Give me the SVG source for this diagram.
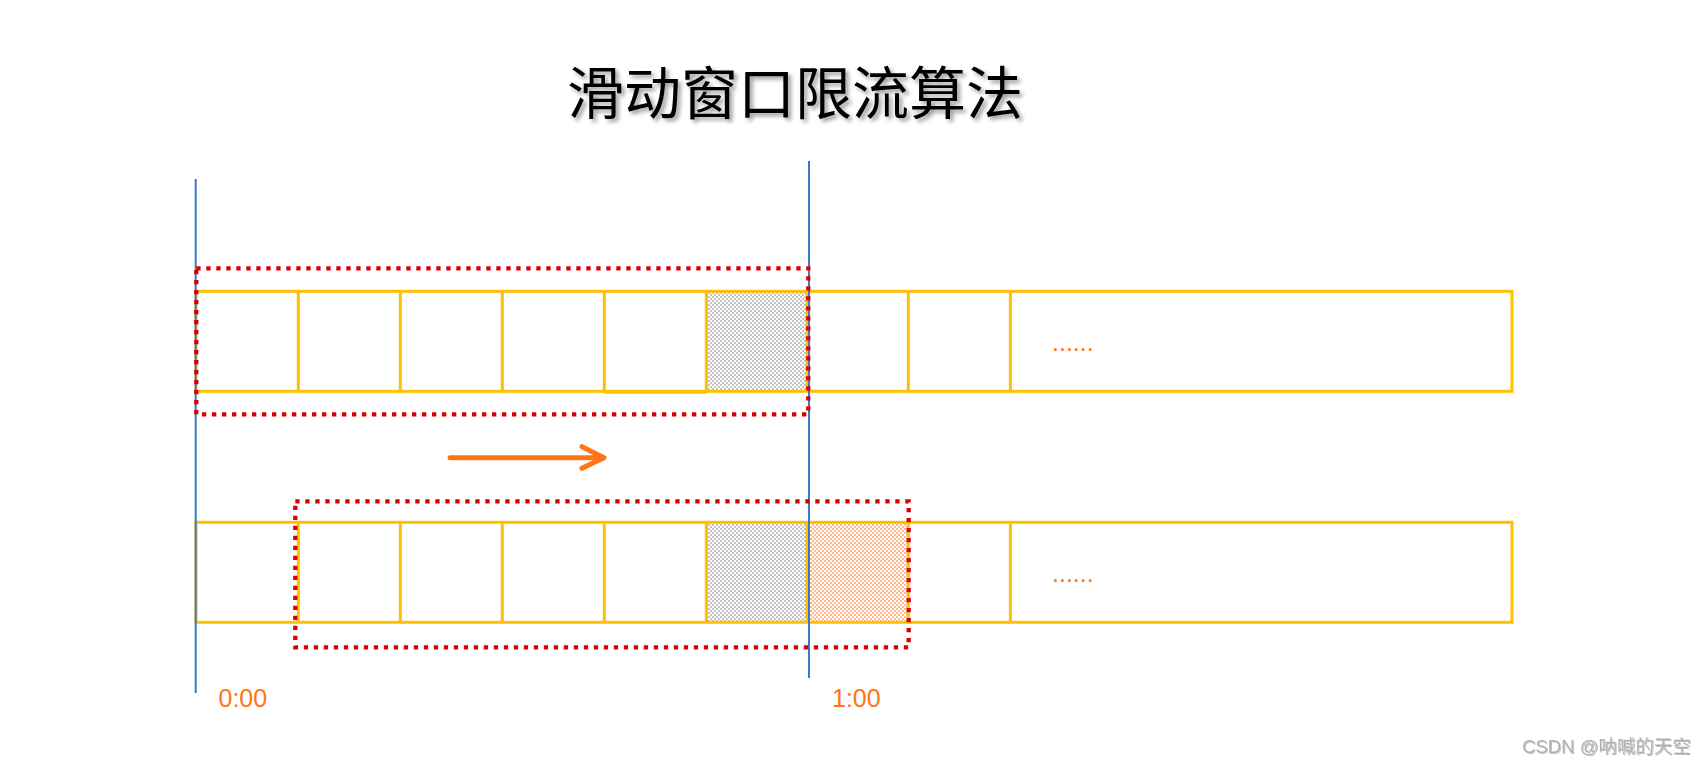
<svg xmlns="http://www.w3.org/2000/svg" width="1706" height="766" viewBox="0 0 1706 766">
<defs>
<pattern id="grayChk" width="4" height="4" patternUnits="userSpaceOnUse">
<rect width="4" height="4" fill="#ffffff"/>
<rect width="2" height="2" fill="#c4c4c4"/>
<rect x="2" y="2" width="2" height="2" fill="#c4c4c4"/>
</pattern>
<pattern id="orangeChk" width="4" height="4" patternUnits="userSpaceOnUse">
<rect width="4" height="4" fill="#ffffff"/>
<rect width="2" height="2" fill="#ffbb90"/>
<rect x="2" y="2" width="2" height="2" fill="#ffbb90"/>
</pattern>
<filter id="shadow" x="-10%" y="-30%" width="120%" height="160%">
<feDropShadow dx="3" dy="3" stdDeviation="2" flood-color="#000" flood-opacity="0.4"/>
</filter>
<filter id="wshadow" x="-10%" y="-30%" width="120%" height="160%">
<feDropShadow dx="1" dy="1" stdDeviation="0.6" flood-color="#000" flood-opacity="0.25"/>
</filter>
</defs>
<style>
.cell{fill:none;stroke:#ffc000;stroke-width:3}
.win{fill:none;stroke:#d90000;stroke-width:4.3;stroke-dasharray:4.3 5.7}
.axis{stroke:#3a78c9;stroke-width:2}
.lbl{font-family:"Liberation Sans",Arial,sans-serif;font-size:25px;fill:#ff7514}
.dots{font-family:"Liberation Sans",Arial,sans-serif;font-size:25px;fill:#ff7514}
.title{font-family:"Noto Sans CJK SC",sans-serif;font-size:57px;fill:#000}
.wm{font-family:"Liberation Sans","Noto Sans CJK SC",sans-serif;font-size:18.5px;fill:#b0b0b0}
</style>
<rect width="1706" height="766" fill="#ffffff"/>
<g id="title"><text class="title" x="795" y="114" text-anchor="middle" filter="url(#shadow)">滑动窗口限流算法</text></g>
<g id="row1">
<rect x="706" y="291.3" width="101" height="100" fill="url(#grayChk)"/>
<rect class="cell" x="196" y="291.3" width="1316" height="100"/>
<path class="cell" d="M298.3 291.3V391.3M400.3 291.3V391.3M502.3 291.3V391.3M604.3 291.3V392.3M706.3 291.3V392.3M604.3 392.3H706.3M807 291.3V391.3M908.3 291.3V391.3M1010.4 291.3V391.3"/>
<text class="dots" x="1052" y="351">......</text>
</g>
<g id="row2">
<rect x="706" y="522.3" width="101" height="100" fill="url(#grayChk)"/>
<rect x="807" y="522.3" width="101" height="100" fill="url(#orangeChk)"/>
<rect class="cell" x="196" y="522.3" width="1316" height="100"/>
<path class="cell" d="M298.3 522.3V622.3M400.3 522.3V622.3M502.3 522.3V622.3M604.3 522.3V622.3M706.3 522.3V622.3M807 522.3V622.3M908.3 522.3V622.3M1010.4 522.3V622.3"/>
<text class="dots" x="1052" y="582">......</text>
</g>
<g id="axes">
<line class="axis" x1="195.7" y1="179" x2="195.7" y2="693"/>
<line class="axis" x1="809" y1="161" x2="809" y2="678"/>
</g>
<g id="windows">
<rect class="win" x="196.3" y="268.3" width="612" height="146"/>
<rect class="win" x="295.3" y="501.3" width="613.4" height="146"/>
</g>
<g id="connectors">
<path d="M450 457.7H603M582 446.7L604 457.7L582 468.3" fill="none" stroke="#ff7514" stroke-width="5" stroke-linecap="round" stroke-linejoin="round"/>
</g>
<g id="labels">
<text class="lbl" x="218.5" y="707">0:00</text>
<text class="lbl" x="832" y="707">1:00</text>
</g>
<g id="watermark"><text class="wm" x="1691" y="753" text-anchor="end" filter="url(#wshadow)">CSDN @呐喊的天空</text></g>
</svg>
